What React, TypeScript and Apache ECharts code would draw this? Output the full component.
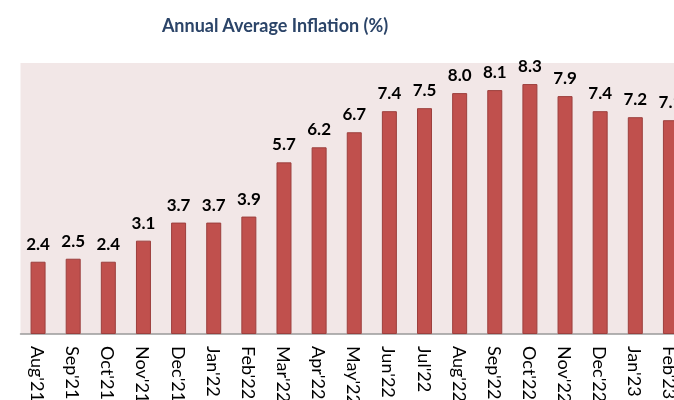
import React, { useEffect, useRef } from "react";
import * as echarts from "echarts";

const categories = [
  "Aug'21", "Sep'21", "Oct'21", "Nov'21", "Dec'21", "Jan'22", "Feb'22",
  "Mar'22", "Apr'22", "May'22", "Jun'22", "Jul'22", "Aug'22", "Sep'22",
  "Oct'22", "Nov'22", "Dec'22", "Jan'23", "Feb'23",
];
const inflation = [
  2.4, 2.5, 2.4, 3.1, 3.7, 3.7, 3.9, 5.7, 6.2, 6.7, 7.4, 7.5, 8.0, 8.1, 8.3,
  7.9, 7.4, 7.2, 7.1,
];
const titleText = "Annual Average Inflation (%)";

export default function App() {
  const ref = useRef<HTMLDivElement>(null);
  useEffect(() => {
    if (!ref.current) return;
    const chart = echarts.init(ref.current, undefined, { renderer: "svg" });
    chart.setOption({
      animation: false,
      graphic: [
        {
          type: "text",
          x: 275,
          y: 25,
          style: {
            text: titleText,
            fontFamily: "Lato",
            fontWeight: "bold",
            fontSize: 18,
            fill: "#2B4468",
            textAlign: "center",
            textVerticalAlign: "middle",
          },
        },
      ],
      grid: {
        left: 20.5,
        right: 0,
        top: 63,
        bottom: 66,
        containLabel: false,
        outerBoundsMode: "none",
        show: true,
        backgroundColor: "#F2E7E7",
        borderWidth: 0,
      },
      xAxis: {
        type: "category",
        data: categories,
        axisLine: { show: true, lineStyle: { color: "#9A9A9A", width: 1.5 } },
        axisTick: { show: false },
        axisLabel: {
          rotate: -90,
          interval: 0,
          margin: 12,
          color: "#000",
          fontFamily: "Lato",
          fontSize: 18,
        },
      },
      yAxis: {
        type: "value",
        min: 0,
        max: 9,
        show: false,
        splitLine: { show: false },
      },
      series: [
        {
          type: "bar",
          data: inflation,
          barWidth: 15,
          itemStyle: {
            color: "#C0504D",
            borderColor: "#9C3F3D",
            borderWidth: 1,
          },
          label: {
            show: true,
            position: "top",
            distance: 10,
            formatter: (p: any) => Number(p.value).toFixed(1),
            color: "#000",
            fontFamily: "Lato",
            fontWeight: "bold",
            fontSize: 17,
          },
        },
      ],
    });
    return () => chart.dispose();
  }, []);
  return (
    <div
      style={{
        position: "fixed",
        left: 0,
        top: 0,
        width: 674,
        height: 400,
        overflow: "hidden",
      }}
    >
      <div ref={ref} style={{ width: 688, height: 400 }} />
    </div>
  );
}
